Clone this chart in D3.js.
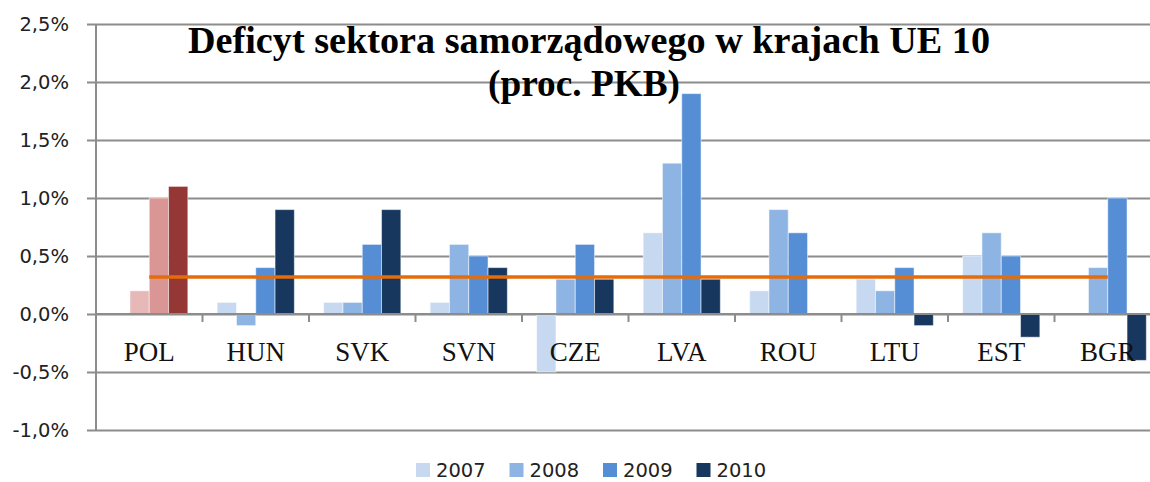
<!DOCTYPE html>
<html>
<head>
<meta charset="utf-8">
<script src="https://cdn.jsdelivr.net/npm/d3@7"></script>
<style>
  body { margin: 0; background: #fff; }
  .axis-y text { font-family: "DejaVu Sans", sans-serif; font-size: 19.5px; fill: #222; }
  .axis-x text { font-family: "Liberation Serif", serif; font-size: 27px; fill: #111; }
  .legend text { font-family: "DejaVu Sans", sans-serif; font-size: 19.5px; fill: #222; }
</style>
</head>
<body>
<div id="chart"></div>
<script>
const countries = ['POL','HUN','SVK','SVN','CZE','LVA','ROU','LTU','EST','BGR'];
const years = ['2007','2008','2009','2010'];

// deficit in % of GDP, null = no bar
const v2007 = [null, 0.1, 0.1, 0.1, -0.5, 0.7, 0.2, 0.3, 0.5, null];
const v2008 = [0.2, -0.1, 0.1, 0.6, 0.3, 1.3, 0.9, 0.2, 0.7, 0.4];
const v2009 = [1.0, 0.4, 0.6, 0.5, 0.6, 1.9, 0.7, 0.4, 0.5, 1.0];
const v2010 = [1.1, 0.9, 0.9, 0.4, 0.3, 0.3, null, -0.1, -0.2, -0.4];
const average = 0.32;

const yTicks = [-1.0, -0.5, 0, 0.5, 1.0, 1.5, 2.0, 2.5];

const blues = ['#c6d9f1', '#8eb4e3', '#558ed5', '#17375e'];
const reds  = ['#f2dcdb', '#e6b9b8', '#d99694', '#953735'];

const series = [v2007, v2008, v2009, v2010];

const W = 1150, H = 482;
const margin = {t:24, l:96};
const plotW = 1065, plotH = 406;

const svg = d3.select('#chart').append('svg')
	.attr('width', W)
	.attr('height', H);

const plot = svg.append('g')
	.attr('class','plot')
	.attr('transform', `translate(${margin.l},${margin.t})`);

const scaleX = d3.scaleBand().domain(countries).range([0, plotW]);
const scaleX1 = d3.scaleBand().domain(years).range([0, scaleX.bandwidth()]).paddingOuter(0.76);
const scaleY = d3.scaleLinear().domain([-1.0, 2.5]).range([plotH, 0]);

////////////////////////////////////////////////////////////////////

const fmt = d => d3.format('.1f')(d).replace('.', ',').replace('−','-') + '%';

const axisY = d3.axisLeft(scaleY)
	.tickValues(yTicks)
	.tickSize(-plotW)
	.tickPadding(27)
	.tickFormat(fmt);

const axisYNode = plot.append('g')
	.attr('class','axis axis-y')
	.call(axisY);
axisYNode.select('.domain').remove();
axisYNode.selectAll('.tick line')
	.attr('x1', -9)
	.attr('stroke', '#8c8c8c')
	.attr('stroke-width', 2);

plot.append('line')
	.attr('x1', 0).attr('x2', 0)
	.attr('y1', scaleY(2.5)).attr('y2', scaleY(-1.0))
	.attr('stroke', '#8c8c8c')
	.attr('stroke-width', 2);

// category boundary ticks under the zero line
plot.selectAll('.cat-tick')
	.data(countries.slice(1))
	.enter().append('line')
	.attr('class','cat-tick')
	.attr('x1', d => scaleX(d)).attr('x2', d => scaleX(d))
	.attr('y1', scaleY(0)).attr('y2', scaleY(0) + 8)
	.attr('stroke', '#8c8c8c')
	.attr('stroke-width', 2);

////////////////////////////////////////////////////////////////////

const bars = [];
countries.forEach((c, i) => {
	years.forEach((y, j) => {
		const v = series[j][i];
		if (v === null) return;
		bars.push({c, y, j, v});
	});
});

plot.selectAll('.bar')
	.data(bars)
	.enter().append('rect')
	.attr('class','bar')
	.attr('x', d => scaleX(d.c) + scaleX1(d.y))
	.attr('width', scaleX1.bandwidth())
	.attr('y', d => scaleY(Math.max(0, d.v)))
	.attr('height', d => Math.abs(scaleY(d.v) - scaleY(0)))
	.attr('fill', d => d.c === 'POL' ? reds[d.j] : blues[d.j])
	.attr('stroke', 'rgba(255,255,255,0.5)')
	.attr('stroke-width', 1);

// redraw zero line above bars
plot.append('line')
	.attr('x1', 0).attr('x2', plotW)
	.attr('y1', scaleY(0)).attr('y2', scaleY(0))
	.attr('stroke', '#8c8c8c')
	.attr('stroke-width', 2);

// average line
const line = d3.line()
	.x(d => scaleX(d) + scaleX.bandwidth() / 2)
	.y(() => scaleY(average));

plot.append('path')
	.datum(countries)
	.attr('d', line)
	.attr('fill', 'none')
	.attr('stroke', '#e46c0a')
	.attr('stroke-width', 3.5);

////////////////////////////////////////////////////////////////////

const axisX = d3.axisBottom(scaleX)
	.tickSize(0)
	.tickPadding(28);

const axisXNode = plot.append('g')
	.attr('class','axis axis-x')
	.attr('transform', `translate(0,${scaleY(0)})`)
	.call(axisX);
axisXNode.select('.domain').remove();

////////////////////////////////////////////////////////////////////

const title = svg.append('g')
	.attr('class','title')
	.attr('font-family', '"Liberation Serif", serif')
	.attr('font-weight', 'bold')
	.attr('font-size', '37px')
	.attr('fill', '#000')
	.attr('text-anchor', 'middle');
title.append('text').attr('x', 589).attr('y', 53)
	.attr('textLength', 802).attr('lengthAdjust', 'spacingAndGlyphs')
	.text('Deficyt sektora samorządowego w krajach UE 10');
title.append('text').attr('x', 584).attr('y', 96)
	.attr('textLength', 192).attr('lengthAdjust', 'spacingAndGlyphs')
	.text('(proc. PKB)');

////////////////////////////////////////////////////////////////////

const legend = svg.append('g')
	.attr('class','legend')
	.attr('transform', 'translate(416,463)');

const item = legend.selectAll('.item')
	.data(years)
	.enter().append('g')
	.attr('class','item')
	.attr('transform', (d, i) => `translate(${i * 93.5},0)`);

item.append('rect')
	.attr('width', 14).attr('height', 14)
	.attr('fill', (d, i) => blues[i]);

item.append('text')
	.attr('x', 20).attr('y', 14)
	.text(d => d);
</script>
</body>
</html>
